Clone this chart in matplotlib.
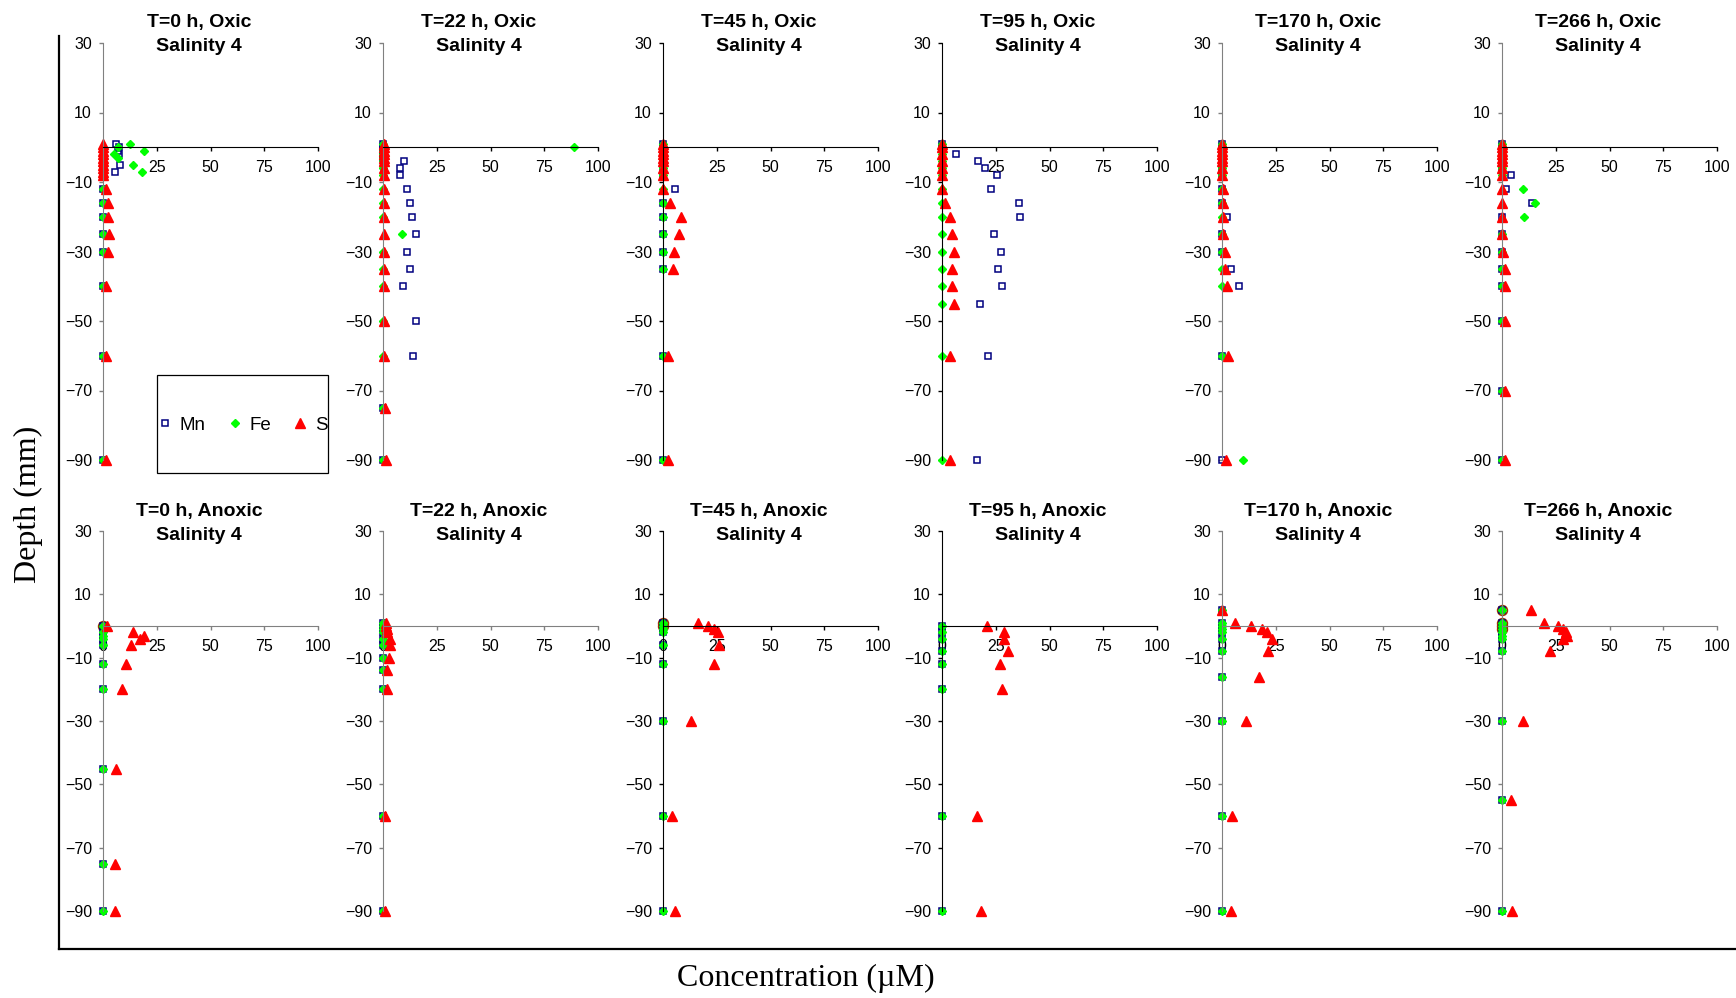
import matplotlib
matplotlib.use("Agg")
import matplotlib.pyplot as plt
from matplotlib.lines import Line2D
from matplotlib.patches import Rectangle

plt.rcParams['font.family'] = ['Liberation Sans', 'DejaVu Sans']

# ---- data (depth in mm, concentration in uM) ----
# Oxic, T=0 h
ox0_depth = [1, 0, -1, -2, -3, -4, -5, -6, -7, -8, -12, -16, -20, -25, -30, -40, -60, -90]
ox0_mn = [6, 7.4, 7, 7.4, 0, 0, 7.8, 0, 5.4, 0, 0, 0, 0, 0, 0, 0, 0, 0]
ox0_fe = [12.4, 7, 18.9, 5, 7, 0, 14, 0, 18.3, 0, 0, 0, 0, 0, 0, 0, 0, 0]
ox0_s = [0, 0, 0, 0, 0, 0, 0, 0, 0, 0, 1.2, 2.3, 2.3, 2.8, 2.3, 1.5, 1.2, 1.2]

# Oxic, T=22 h
ox22_depth = [1, 0, -1, -2, -3, -4, -6, -8, -12, -16, -20, -25, -30, -35, -40, -50, -60, -75, -90]
ox22_mn = [0, 0, 0, 0, 0, 9.6, 7.8, 7.8, 11.2, 12.4, 13.6, 15.2, 11.2, 12.4, 9.5, 15.2, 14.1, 0, 0]
ox22_fe = [0, 89, 0, 0, 0, 0, 0, 0, 0, 0, 0, 8.7, 0, 0, 0, 0, 0, 0, 0]
ox22_s = [0.3, 0.3, 0.3, 0.3, 0.3, 0.3, 0.3, 0.3, 0.3, 0.3, 0.3, 0.3, 0.3, 0.6, 0.6, 0.6, 0.6, 1.0, 1.5]

# Oxic, T=45 h
ox45_depth = [1, 0, -1, -2, -3, -4, -6, -8, -12, -16, -20, -25, -30, -35, -60, -90]
ox45_mn = [0, 0, 0, 0, 0, 0, 0, 0, 5.6, 0, 0, 0, 0, 0, 0, 0]
ox45_fe = [0, 0, 0, 0, 0, 0, 0, 0, 0, 0, 0, 0, 0, 0, 0, 0]
ox45_s = [0, 0, 0, 0, 0, 0, 0, 0, 0, 3.4, 8.2, 7.6, 5.3, 4.7, 2.2, 2.2]

# Oxic, T=95 h
ox95_depth = [1, 0, -2, -4, -6, -8, -12, -16, -20, -25, -30, -35, -40, -45, -60, -90]
ox95_mn = [0, 0, 6.7, 16.7, 20.2, 25.6, 22.6, 35.7, 36.3, 24.3, 27.4, 26.2, 27.9, 17.8, 21.6, 16.1]
ox95_fe = [0, 0, 0, 0, 0, 0, 0, 0, 0, 0, 0, 0, 0, 0, 0, 0]
ox95_s = [0, 0, 0, 0, 0, 0, 0, 1.2, 3.6, 4.8, 5.4, 4.8, 4.8, 5.4, 3.6, 3.6]

# Oxic, T=170 h
ox170_depth = [1, 0, -1, -2, -3, -4, -6, -8, -12, -16, -20, -25, -30, -35, -40, -60, -90]
ox170_mn = [0, 0, 0, 0, 0, 0, 0, 0, 0, 0, 2.2, 0, 0, 4, 7.9, 0, 0]
ox170_fe = [0, 0, 0, 0, 0, 0, 0, 0, 0, 0, 0, 0, 0, 0, 0, 0, 9.6]
ox170_s = [0, 0, 0, 0, 0, 0, 0, 0, 0.3, 0.3, 0.3, 0.3, 1.6, 1.4, 2.2, 2.9, 1.7]

# Oxic, T=266 h
ox266_depth = [1, 0, -1, -2, -3, -4, -6, -8, -12, -16, -20, -25, -30, -35, -40, -50, -70, -90]
ox266_mn = [0, 0, 0, 0, 0, 0, 0, 4, 1.9, 13.8, 0, 0, 0, 0, 0, 0, 0, 0]
ox266_fe = [0, 0, 0, 0, 0, 0, 0, 0, 9.6, 15.3, 10.1, 0, 0, 0, 0, 0, 0, 0]
ox266_s = [0, 0, 0, 0, 0, 0, 0, 0, 0, 0, 0, 0, 0.6, 1.2, 1.2, 1.2, 1.2, 1.6]

# Anoxic, T=0 h
an0_depth = [0, -2, -3, -4, -6, -12, -20, -45, -75, -90]
an0_mn = [0, 0, 0, 0, 0, 0, 0, 0, 0, 0]
an0_fe = [0, 0, 0, 0, 0, 0, 0, 0, 0, 0]
an0_s = [1.9, 14, 18.9, 17, 12.9, 10.5, 8.8, 6.2, 5.7, 5.7]
an0_circ_depth = [0]
an0_circ = [0]

# Anoxic, T=22 h
an22_depth = [1, 0, -1, -2, -4, -6, -10, -14, -20, -60, -90]
an22_mn = [0, 0, 0, 0, 0, 0, 0, 0, 0, 0, 0]
an22_fe = [0, 0, 0, 0, 0, 0, 0, 0, 0, 0, 0]
an22_s = [1.2, 1.5, 1.9, 2.0, 3.4, 3.4, 2.6, 2.0, 2.0, 0.9, 0.9]

# Anoxic, T=45 h
an45_depth = [1, 0, -1, -2, -6, -12, -30, -60, -90]
an45_mn = [0, 0, 0, 0, 0, 0, 0, 0, 0]
an45_fe = [0, 0, 0, 0, 0, 0, 0, 0, 0]
an45_s = [16.3, 20.9, 23.9, 25.4, 26, 23.6, 13, 4.2, 5.7]
an45_circ_depth = [1, 0]
an45_circ = [0, 0]

# Anoxic, T=95 h
an95_depth = [0, -2, -4, -8, -12, -20, -60, -90]
an95_mn = [0, 0, 0, 0, 0, 0, 0, 0]
an95_fe = [0, 0, 0, 0, 0, 0, 0, 0]
an95_s = [21.1, 28.7, 28.7, 30.7, 27.1, 27.8, 16.4, 18.3]

# Anoxic, T=170 h
an170_depth = [5, 1, 0, -1, -2, -4, -8, -16, -30, -60, -90]
an170_mn = [0, 0, 0, 0, 0, 0, 0, 0, 0, 0, 0]
an170_fe = [0, 0, 0, 0, 0, 0, 0, 0, 0, 0, 0]
an170_s = [0, 6, 13.5, 18.8, 21.1, 23.1, 21.2, 17.2, 11.2, 4.8, 4.2]

# Anoxic, T=266 h
an266_depth = [5, 1, 0, -1, -2, -3, -4, -8, -30, -55, -90]
an266_mn = [0, 0, 0, 0, 0, 0, 0, 0, 0, 0, 0]
an266_fe = [0, 0, 0, 0, 0, 0, 0, 0, 0, 0, 0]
an266_s = [13.5, 19.7, 26.2, 28.5, 29.6, 30.1, 28.5, 22.3, 9.9, 4.2, 4.8]
an266_circ_depth = [5, 1, 0, -1]
an266_circ = [0, 0, 0, 0]

times = ["0", "22", "45", "95", "170", "266"]
x_ticks = [0, 25, 50, 75, 100]
y_ticks = [30, 10, -10, -30, -50, -70, -90]

top_row = [
    (ox0_depth, ox0_mn, ox0_fe, ox0_s, None, None),
    (ox22_depth, ox22_mn, ox22_fe, ox22_s, None, None),
    (ox45_depth, ox45_mn, ox45_fe, ox45_s, None, None),
    (ox95_depth, ox95_mn, ox95_fe, ox95_s, None, None),
    (ox170_depth, ox170_mn, ox170_fe, ox170_s, None, None),
    (ox266_depth, ox266_mn, ox266_fe, ox266_s, None, None),
]
bottom_row = [
    (an0_depth, an0_mn, an0_fe, an0_s, an0_circ_depth, an0_circ),
    (an22_depth, an22_mn, an22_fe, an22_s, None, None),
    (an45_depth, an45_mn, an45_fe, an45_s, an45_circ_depth, an45_circ),
    (an95_depth, an95_mn, an95_fe, an95_s, None, None),
    (an170_depth, an170_mn, an170_fe, an170_s, None, None),
    (an266_depth, an266_mn, an266_fe, an266_s, an266_circ_depth, an266_circ),
]

# ---- layout (pixels of the 1736x998 canvas) ----
W, H = 1736, 998
fig = plt.figure(figsize=(W / 100, H / 100), dpi=100)

col_x = [103, 383, 663, 942, 1222, 1502]
ax_w = 215
# (axes top px, axes bottom px, title centre px, condition, data)
rows = [(43, 460, 34.5, "Oxic", top_row), (531, 911, 523.5, "Anoxic", bottom_row)]
axis_cols = ['#808080', '#808080', 'black', 'black', '#808080', '#808080']

first_ax = None
for top, bot, title_y, cond, data in rows:
    for c in range(6):
        ax = fig.add_axes([col_x[c] / W, 1 - bot / H, ax_w / W, (bot - top) / H])
        depth, mn, fe, s, cdep, circ = data[c]
        if cdep is not None:
            ax.plot(circ, cdep, 'o', ms=7, mfc='none', mec='#993300', mew=1.2, clip_on=False)
        ax.plot(mn, depth, 's', ms=4.6, mfc='none', mec='#000080', mew=1.1, clip_on=False, label='Mn')
        ax.plot(fe, depth, 'D', ms=3.8, color='#00FF00', clip_on=False, label='Fe')
        ax.plot(s, depth, '^', ms=6.5, color='#FF0000', clip_on=False, label='S')

        ax.set_xlim(0, 100)
        ax.set_ylim(-90, 30)
        ax.set_xticks(x_ticks)
        ax.set_yticks(y_ticks)
        ax.spines['bottom'].set_position(('data', 0))
        ax.spines['top'].set_visible(False)
        ax.spines['right'].set_visible(False)
        ycol = axis_cols[c]
        xcol = 'black' if cond == "Oxic" else ycol
        ax.spines['left'].set_color(ycol)
        ax.spines['bottom'].set_color(xcol)
        ax.tick_params(axis='x', direction='out', length=3, width=1, colors=xcol,
                       labelcolor='black', labelsize=11.5, pad=6.5)
        ax.tick_params(axis='y', direction='out', length=3, width=1, colors=ycol,
                       labelcolor='black', labelsize=11.5, pad=5)
        ax.patch.set_visible(False)

        title = f"T={times[c]} h, {cond}\nSalinity 4"
        fig.text((col_x[c] + 96) / W, 1 - title_y / H, title, ha='center', va='center',
                 fontsize=14, fontweight='bold', linespacing=1.55)
        if first_ax is None:
            first_ax = ax

# legend with a plain square box
handles, labels = first_ax.get_legend_handles_labels()
fig.legend(handles, labels, loc='center', bbox_to_anchor=(243 / W, 1 - 425 / H),
           ncol=3, frameon=False, fontsize=13.5, handlelength=0.7,
           handletextpad=0.45, columnspacing=1.2)
fig.add_artist(Rectangle((157 / W, 1 - 473 / H), 171 / W, 98 / H, fill=False,
                         ec='black', lw=0.9, transform=fig.transFigure))

# outer chart axes (L-shaped frame)
fig.add_artist(Line2D([59 / W, 59 / W], [1 - 36 / H, 1 - 949 / H], color='black', lw=1.6))
fig.add_artist(Line2D([59 / W, 1.0], [1 - 949 / H, 1 - 949 / H], color='black', lw=1.6))

fig.text(28 / W, 1 - 504 / H, "Depth (mm)", rotation=90, ha='center', va='center',
         family='Liberation Serif', fontsize=23)
fig.text(806 / W, 1 - 978 / H, "Concentration (\u00b5M)", ha='center', va='center',
         family='Liberation Serif', fontsize=23)

fig.savefig("out.png", dpi=100)
